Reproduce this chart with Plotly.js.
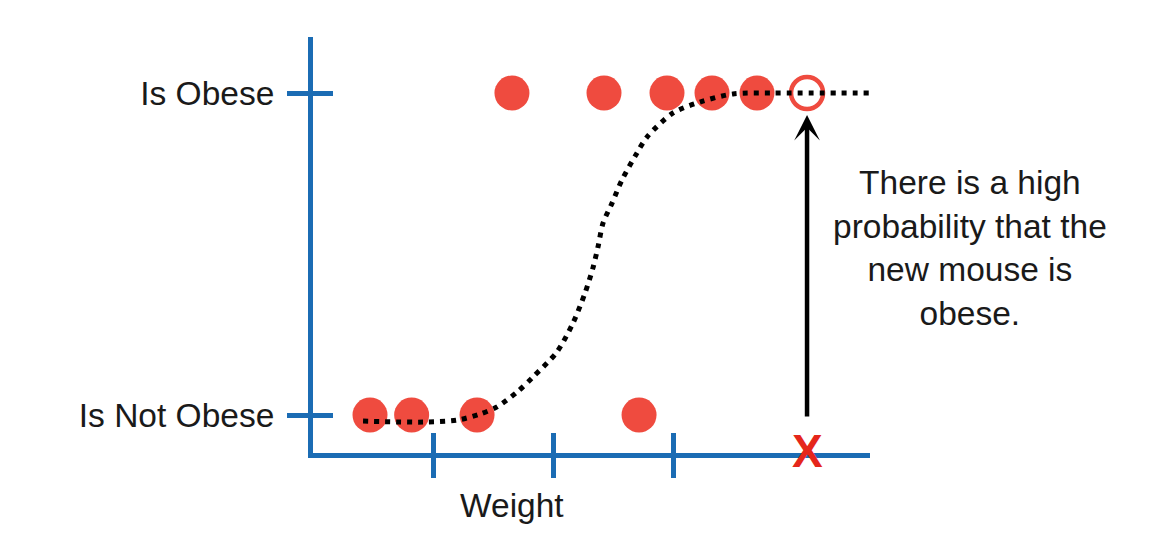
<!DOCTYPE html>
<html>
<head>
<meta charset="utf-8">
<script src="https://cdn.plot.ly/plotly-3.0.1.min.js"></script>
<style>
  html, body { margin: 0; padding: 0; background: #ffffff; }
  #chart { width: 1165px; height: 555px; }
</style>
</head>
<body>
<div id="chart"></div>
<script>
// ---- data ----
const yCategories = ["Is Not Obese", "Is Obese"];
const yCategoryValues = [0, 1];
const weightTicks = [1, 2, 3];

const notObeseWeights = [0.475, 0.822, 1.367, 2.717];
const obeseWeights = [1.658, 2.425, 2.95, 3.325, 3.7];
const newMouseWeight = [4.117];

// fitted logistic curve
const curveWeight = [0.417, 0.917, 1.2, 1.392, 1.533, 1.7, 1.833, 2.033, 2.167, 2.267, 2.333, 2.375, 2.417, 2.492, 2.575, 2.7, 2.783, 3.0, 3.225, 3.5, 3.833, 4.642];
const curveProb   = [-0.019, -0.022, -0.016, 0.003, 0.025, 0.071, 0.118, 0.196, 0.286, 0.379, 0.457, 0.522, 0.596, 0.658, 0.730, 0.814, 0.863, 0.938, 0.972, 0.997, 1.0, 1.0];

const newMouseProb = [0.932];   // arrow tip
const arrowTail = [-0.009];

const annotationText = "There is a high<br>probability that the<br>new mouse is<br>obese.";

// ---- styles ----
const BLUE = "#1b6cb4";
const RED = "#ef4b3f";
const XRANGE = [0, 4.6417];
const YRANGE = [-0.118, 1.1739];
const FONT = "Liberation Sans, Arial, Helvetica, sans-serif";

const traces = [
  {
    x: notObeseWeights, y: notObeseWeights.map(() => yCategoryValues[0]),
    mode: "markers", type: "scatter",
    marker: { size: 35, color: RED, line: { width: 0 } },
    hoverinfo: "skip", cliponaxis: false
  },
  {
    x: obeseWeights, y: obeseWeights.map(() => yCategoryValues[1]),
    mode: "markers", type: "scatter",
    marker: { size: 35, color: RED, line: { width: 0 } },
    hoverinfo: "skip", cliponaxis: false
  },
  {
    x: newMouseWeight, y: [yCategoryValues[1]],
    mode: "markers", type: "scatter",
    marker: { size: 32, color: "rgba(255,255,255,0)", line: { width: 4.5, color: RED } },
    hoverinfo: "skip", cliponaxis: false
  },
  {
    x: curveWeight, y: curveProb,
    xaxis: "x2", yaxis: "y2",
    mode: "lines", type: "scatter",
    line: { color: "#000000", width: 5, dash: "5px,6px", shape: "spline", smoothing: 0.8 },
    hoverinfo: "skip"
  }
];

const layout = {
  width: 1165, height: 555,
  margin: { l: 313, r: 295, t: 37, b: 102, pad: 0 },
  paper_bgcolor: "#ffffff", plot_bgcolor: "#ffffff",
  showlegend: false,
  font: { family: FONT, color: "#1a1a1a", size: 33 },
  xaxis: {
    range: XRANGE, showgrid: false, zeroline: false,
    showline: true, linecolor: BLUE, linewidth: 5,
    tickmode: "array", tickvals: weightTicks,
    ticks: "outside", ticklen: 20, tickwidth: 5, tickcolor: BLUE,
    showticklabels: false, fixedrange: true
  },
  yaxis: {
    range: YRANGE, showgrid: false, zeroline: false,
    showline: true, linecolor: BLUE, linewidth: 5,
    tickmode: "array", tickvals: yCategoryValues, ticktext: yCategories,
    ticks: "outside", ticklen: 21, tickwidth: 5, tickcolor: BLUE,
    tickfont: { family: FONT, size: 33.5, color: "#1a1a1a" },
    ticklabelstandoff: 6,
    fixedrange: true
  },
  xaxis2: {
    overlaying: "x", anchor: "y2", side: "bottom",
    range: XRANGE, showgrid: false, zeroline: false, showline: false,
    tickmode: "array", tickvals: weightTicks,
    ticks: "inside", ticklen: 20, tickwidth: 5, tickcolor: BLUE,
    showticklabels: false, fixedrange: true
  },
  yaxis2: {
    overlaying: "y", anchor: "x2", side: "left",
    range: YRANGE, showgrid: false, zeroline: false, showline: false,
    tickmode: "array", tickvals: yCategoryValues,
    ticks: "inside", ticklen: 20, tickwidth: 5, tickcolor: BLUE,
    showticklabels: false, fixedrange: true
  },
  annotations: [
    {
      x: newMouseWeight[0], y: newMouseProb[0], xref: "x", yref: "y",
      ax: newMouseWeight[0], ay: arrowTail[0], axref: "x", ayref: "y",
      text: "", showarrow: true, arrowhead: 3, arrowsize: 0.95, arrowwidth: 4.5,
      arrowcolor: "#000000", standoff: 0, startstandoff: 0
    },
    {
      x: newMouseWeight[0], y: -0.112, xref: "x", yref: "y",
      text: "<b>X</b>", showarrow: false, xanchor: "center", yanchor: "middle",
      font: { family: FONT, size: 46, color: "#e5261b" }
    },
    {
      x: 0.357, y: -0.125, xref: "paper", yref: "paper",
      text: "Weight", showarrow: false, xanchor: "center", yanchor: "middle",
      font: { family: FONT, size: 33.5, color: "#1a1a1a" }
    },
    {
      x: 1.1795, y: 0.4928, xref: "paper", yref: "paper",
      text: annotationText, showarrow: false, xanchor: "center", yanchor: "middle",
      align: "center",
      font: { family: FONT, size: 33.5, color: "#1a1a1a" }
    }
  ]
};

Plotly.newPlot("chart", traces, layout, { staticPlot: true, displayModeBar: false });
</script>
</body>
</html>
